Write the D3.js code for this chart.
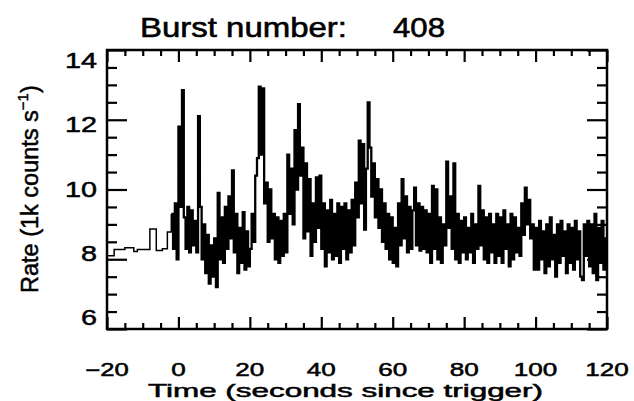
<!DOCTYPE html>
<html>
<head>
<meta charset="utf-8">
<script src="https://cdn.jsdelivr.net/npm/d3@7"></script>
<style>
  body { margin: 0; background: #fff; }
  text { font-family: "Liberation Sans", Arial, sans-serif; fill: #000; stroke: #000; stroke-width: 0.5px; }
</style>
</head>
<body>
<div id="chart"></div>
<script>
// pre-trigger coarse bins (start time of each bin, rate in 1k counts/s)
const preTimes = [-20, -18, -15, -12.5, -11.5, -8, -6.2, -4.5, -3.1];
const preRates = [8.1, 8.28, 8.33, 8.22, 8.28, 8.87, 8.25, 8.3, 8.78];

// fine bins from -2 s, 0.5 s wide
const binStart = -2;
const binWidth = 0.5;
const rates = [
  9.3, 8.3, 9.6, 8.0,
  11.8, 9.5, 12.85, 9.2, 8.3, 9.5, 8.2, 9.4, 8.4, 9.1,
  8.2, 12.1, 9.5, 8.0, 9.0, 7.6, 8.7, 7.3, 8.4, 7.5,
  8.6, 7.2, 9.9, 8.0, 9.2, 7.9, 9.5, 8.3, 9.8, 8.6,
  10.55, 8.2, 9.3, 7.6, 8.9, 7.9, 9.35, 7.7, 8.8, 7.8,
  8.3, 9.3, 8.5, 10.4, 10.9, 12.95, 11.0, 12.9, 9.6, 10.2,
  8.5, 10.0, 8.6, 9.3, 8.0, 9.2, 7.9, 9.1, 8.1, 9.3,
  8.2, 11.0, 9.3, 10.6, 9.0, 11.7, 10.0, 12.45, 10.4, 11.2,
  8.6, 10.75, 8.8, 10.3, 8.1, 9.6, 8.5, 10.35, 8.9, 10.4,
  8.3, 9.6, 7.8, 9.4, 8.2, 9.7, 8.0, 9.3, 8.1, 9.6,
  7.9, 9.5, 8.3, 9.6, 8.0, 9.4, 8.2, 9.7, 8.4, 10.2,
  9.2, 11.4, 9.6, 11.3, 8.85, 10.6, 12.5, 11.2, 9.8, 10.75,
  9.2, 10.3, 8.9, 10.0, 8.5, 9.6, 8.3, 9.3, 8.0, 9.2,
  7.9, 8.9, 7.8, 9.6, 8.4, 10.3, 8.6, 9.8, 8.2, 9.5,
  8.3, 9.4, 10.05, 8.4, 9.6, 8.25, 9.5, 8.3, 9.4, 8.2,
  9.3, 7.9, 10.1, 8.3, 10.0, 8.0, 9.2, 7.9, 9.0, 8.4,
  10.8, 8.9, 9.8, 8.3, 10.75, 8.0, 9.3, 7.9, 9.1, 8.2,
  9.2, 8.0, 8.9, 8.2, 9.3, 7.9, 9.0, 8.3, 10.1, 8.4,
  9.4, 8.0, 9.2, 7.9, 9.3, 8.2, 9.0, 7.9, 9.3, 8.1,
  9.2, 7.9, 9.4, 8.3, 9.0, 7.8, 9.3, 8.0, 9.2, 8.2,
  8.9, 8.1, 9.6, 8.7, 10.05, 9.0, 9.7, 8.6, 9.0, 7.7,
  8.9, 7.7, 9.1, 8.0, 8.8, 7.6, 9.0, 7.8, 9.2, 8.0,
  8.7, 7.5, 9.0, 7.9, 9.1, 8.1, 8.8, 7.6, 9.0, 7.9,
  8.9, 7.7, 9.1, 8.0, 8.8, 7.5, 7.4, 9.0, 8.1, 9.1,
  7.8, 9.0, 7.6, 9.3, 7.4, 8.9, 7.9, 9.1, 7.7, 8.6
];

const xMajor = [-20, 0, 20, 40, 60, 80, 100, 120];
const yMajor = [6, 8, 10, 12, 14];
const xLabels = ["\u221220", "0", "20", "40", "60", "80", "100", "120"];
const yLabels = ["6", "8", "10", "12", "14"];
const titleText = "Burst number:";
const burstNo = "408";

let w = 634;
let h = 401;
let m = {left: 107, right: 607, top: 50, bottom: 329};

let x = d3.scaleLinear().domain([-20, 120]).range([m.left, m.right]);
let y = d3.scaleLinear().domain([6, 14]).range([m.bottom, m.top]);

let pre = preTimes.map((t, i) => ({t: t, v: preRates[i]}));
pre.push({t: binStart, v: preRates[preRates.length - 1]});
let fine = rates.map((v, i) => ({t: binStart + i * binWidth, v: v}));
fine.push({t: 120, v: rates[rates.length - 1]});

let svg = d3.select("#chart")
    .append("svg")
    .attr("width", w)
    .attr("height", h);

svg.append("rect").attr("width", w).attr("height", h).attr("fill", "#fff");

svg.append("clipPath").attr("id", "clip")
    .append("rect")
    .attr("x", m.left).attr("y", m.top)
    .attr("width", m.right - m.left).attr("height", m.bottom - m.top);

let line = d3.line()
    .x(d => x(d.t))
    .y(d => y(d.v))
    .curve(d3.curveStepAfter);

// pre-trigger part thin, fine part heavier
svg.append("path")
    .datum(pre.concat([fine[0]]))
    .attr("clip-path", "url(#clip)")
    .attr("d", line)
    .attr("fill", "none")
    .attr("stroke", "#000")
    .attr("stroke-width", 1.5);

svg.append("path")
    .datum(fine)
    .attr("clip-path", "url(#clip)")
    .attr("d", line)
    .attr("fill", "none")
    .attr("stroke", "#000")
    .attr("stroke-width", 2.3);

// ticks, all four sides, major + minor
let xMinor = d3.range(-20, 120.1, 5).filter(v => xMajor.indexOf(v) < 0);
let yMinor = d3.range(6, 14.01, 0.5).filter(v => yMajor.indexOf(v) < 0);

function ticks(axis, vals, size, tr) {
    let g = svg.append("g")
        .attr("transform", tr)
        .call(axis.tickValues(vals).tickSize(-size).tickFormat(""));
    g.select(".domain").remove();
    g.selectAll("line").attr("stroke", "#000").attr("stroke-width", 2.2);
}
ticks(d3.axisBottom(x), xMajor, 12, `translate(0,${m.bottom})`);
ticks(d3.axisBottom(x), xMinor, 6, `translate(0,${m.bottom})`);
ticks(d3.axisTop(x), xMajor, 12, `translate(0,${m.top})`);
ticks(d3.axisTop(x), xMinor, 6, `translate(0,${m.top})`);
ticks(d3.axisLeft(y), yMajor, 20, `translate(${m.left},0)`);
ticks(d3.axisLeft(y), yMinor, 10, `translate(${m.left},0)`);
ticks(d3.axisRight(y), yMajor, 20, `translate(${m.right},0)`);
ticks(d3.axisRight(y), yMinor, 10, `translate(${m.right},0)`);

svg.append("rect")
    .attr("x", m.left).attr("y", m.top)
    .attr("width", m.right - m.left).attr("height", m.bottom - m.top)
    .attr("fill", "none")
    .attr("stroke", "#000")
    .attr("stroke-width", 2.5);

// tick labels
svg.selectAll("text.xl")
    .data(xMajor)
    .enter()
    .append("text")
    .attr("class", "xl")
    .text((d, i) => xLabels[i])
    .attr("x", d => x(d))
    .attr("y", 376)
    .attr("text-anchor", "middle")
    .attr("font-size", 18)
    .attr("textLength", (d, i) => xLabels[i].length * 14.5)
    .attr("lengthAdjust", "spacingAndGlyphs");

let yLab = d3.scaleLinear().domain([6, 14]).range([317, 60]);
svg.selectAll("text.yl")
    .data(yMajor)
    .enter()
    .append("text")
    .attr("class", "yl")
    .text((d, i) => yLabels[i])
    .attr("x", 97)
    .attr("y", d => yLab(d) + 8)
    .attr("text-anchor", "end")
    .attr("font-size", 22)
    .attr("textLength", (d, i) => yLabels[i].length * 16)
    .attr("lengthAdjust", "spacingAndGlyphs");

// title
svg.append("text")
    .text(titleText)
    .attr("x", 140).attr("y", 37)
    .attr("font-size", 28)
    .style("stroke-width", "0.6px")
    .attr("textLength", 207)
    .attr("lengthAdjust", "spacingAndGlyphs");
svg.append("text")
    .text(burstNo)
    .attr("x", 393).attr("y", 37)
    .attr("font-size", 28)
    .style("stroke-width", "0.6px")
    .attr("textLength", 52)
    .attr("lengthAdjust", "spacingAndGlyphs");

// axis titles
svg.append("text")
    .text("Time (seconds since trigger)")
    .attr("x", 148).attr("y", 397)
    .attr("font-size", 17.5)
    .attr("textLength", 395)
    .attr("lengthAdjust", "spacingAndGlyphs");

let yt = svg.append("text")
    .attr("transform", "translate(38,293) rotate(-90)")
    .attr("font-size", 23.5);
yt.append("tspan").text("Rate (1k counts s");
yt.append("tspan").text("\u22121").attr("font-size", 15).attr("dy", -10);
yt.append("tspan").text(")").attr("dy", 10);
</script>
</body>
</html>
